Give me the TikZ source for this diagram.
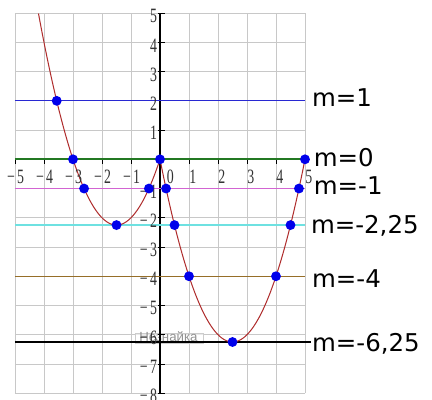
\documentclass[tikz,border=0pt]{standalone}
\usepackage{fontspec}
\newfontfamily\tickfont{Liberation Serif}
\newfontfamily\labfont{DejaVu Sans}
\newfontfamily\wmfont{Liberation Sans}
\definecolor{gridc}{RGB}{200,200,200}
\definecolor{curvec}{RGB}{175,45,45}
\definecolor{lblue}{RGB}{40,40,210}
\definecolor{lgreen}{RGB}{35,120,35}
\definecolor{lmag}{RGB}{210,100,210}
\definecolor{lcyan}{RGB}{110,225,225}
\definecolor{lbrown}{RGB}{150,110,40}
\definecolor{ptc}{RGB}{0,0,235}
\tikzset{
  gridline/.style={draw=gridc,line width=0.7pt},
  hline/.style={line width=1.3pt},
  curve/.style={draw=curvec,line width=1pt},
  pt/.style={circle,fill=ptc,inner sep=0pt,minimum size=0.34cm},
  xlab/.style={font=\tickfont\fontsize{20}{21}\selectfont,inner sep=0pt,xscale=0.68,text=black!80},
  ylab/.style={font=\tickfont\fontsize{20}{21}\selectfont,inner sep=0pt,anchor=east,xscale=0.68,text=black!80},
  mlab/.style={font=\labfont\fontsize{24}{28}\selectfont,inner sep=0pt,anchor=base west},
}
\begin{document}
\begin{tikzpicture}[x=1cm,y=1.008cm]
\useasboundingbox (-5.517cm,-8.266cm) rectangle (9.379cm,5.493cm);
% grid
\foreach \i in {-5,...,5} \draw[gridline] (\i,-8) -- (\i,5);
\foreach \j in {-8,...,5} \draw[gridline] (-5,\j) -- (5,\j);
% watermark
\fill[white,opacity=0.6] (-0.862,-5.94) rectangle (1.483,-6.285);
\draw[gray!40,line width=0.5pt] (-0.862,-5.94) rectangle (1.483,-6.285);
\node[font=\wmfont\fontsize{13}{14}\selectfont,text=gray!85,inner sep=0pt] (wm) at (0.29,-6.08) {Незнайка};
% y axis
\draw[black,line width=1.4pt] (0,-8) -- (0,5);
\foreach \j in {-8,...,5} \draw[black,line width=0.8pt] (-0.07,\j) -- (0.17,\j);
\foreach \i in {-5,...,5} \draw[black,line width=0.8pt] (\i,0) -- (\i,-0.17);
% horizontal lines
\draw[hline,lblue] (-5,2) -- (5,2);
\draw[hline,lmag,line width=1.6pt] (-5,-1) -- (5,-1);
\draw[hline,lcyan,line width=1.6pt] (-5,-2.25) -- (5,-2.25);
\draw[hline,lbrown] (-5,-4) -- (5,-4);
\draw[hline,black] (-5,-6.25) -- (5.2,-6.25);
\draw[hline,lgreen,line width=2pt] (-5,0) -- (5,0);
% curve
\draw[curve] plot[domain=-4.19:0,samples=80] (\x,{\x*\x+3*\x});
\draw[curve] plot[domain=0:5,samples=80] (\x,{\x*\x-5*\x});
% tick labels x
\foreach \i in {-5,...,-1} \node[xlab] (xl\i) at (\i+0.02,-0.6) {\char"2212\relax\,\the\numexpr-\i\relax};
\foreach \i in {1,...,5} \node[xlab] (xlp\i) at (\i+0.13,-0.6) {\i};
\node[xlab] (xl0) at (0.36,-0.6) {0};
% tick labels y
\foreach \j in {1,...,5} \node[ylab] (yl\j) at (-0.1,\j-0.1) {\j};
\foreach \j in {-8,...,-1} \node[ylab] (ylm\j) at (-0.1,\j-0.1) {\char"2212\relax\,\the\numexpr-\j\relax};
% points
\foreach \p [count=\k] in {(-3.5616,2),(-3,0),(0,0),(5,0),(-2.618,-1),(-0.382,-1),(0.2087,-1),(4.7913,-1),(-1.5,-2.25),(0.5,-2.25),(4.5,-2.25),(1,-4),(4,-4),(2.5,-6.25)}
  \node[pt] (p\k) at \p {};
% m labels
\node[mlab] (m1) at (5.24cm,1.82) {m=1};
\node[mlab] (m0) at (5.3cm,-0.23) {m=0};
\node[mlab] (mm1) at (5.3cm,-1.19) {m=-1};
\node[mlab] (mm2) at (5.2cm,-2.55) {m=-2,25};
\node[mlab] (mm4) at (5.24cm,-4.37) {m=-4};
\node[mlab] (mm6) at (5.24cm,-6.59) {m=-6,25};
\end{tikzpicture}
\end{document}
